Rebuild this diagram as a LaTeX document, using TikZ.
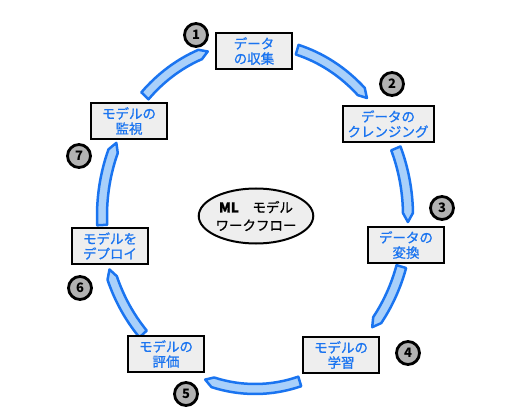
\documentclass[tikz,border=0pt]{standalone}
\usepackage{fontspec}
\setmainfont{Noto Sans CJK JP}
\newfontfamily\stepfont{Noto Sans CJK JP}[FakeBold=0.8]
\usetikzlibrary{positioning, shapes.geometric}
\definecolor{flowblue}{HTML}{1A74F0}
\definecolor{flowfill}{HTML}{A9D0FA}
\definecolor{boxgray}{HTML}{EEEEEE}
\definecolor{stepgray}{HTML}{B2B2B2}
\tikzset{
  stepbox/.style={draw=black, line width=2pt, fill=boxgray, minimum width=76pt, minimum height=36pt,
    inner sep=2pt, align=center, text=flowblue, font=\stepfont\fontsize{13.5}{15}\selectfont},
  stepnum/.style={circle, draw=black, line width=2.8pt, fill=stepgray, minimum size=23pt,
    inner sep=0pt, font=\bfseries\fontsize{13}{13}\selectfont},
  flowband/.style={draw=flowblue, fill=flowfill, line width=2.5pt, line join=round},
}

\begin{document}
\begin{tikzpicture}[x=1pt, y=1pt]
    \useasboundingbox (0,0) rectangle (518,415);

    % ring of arrows
    \begin{scope}[shift={(255,199)}]
    \foreach \s/\e in {74/43, 23/-2, -17/-40, -73/-109, -137/-162, 183/155, 136/108}
    {
        \pgfmathsetmacro\m{\e+3}
        \filldraw[flowband] (\s:158 and 178) arc[start angle=\s, end angle=\m, x radius=158, y radius=178]
            -- (\e:153 and 173) -- (\m:148 and 168)
            arc[start angle=\m, end angle=\s, x radius=148, y radius=168] -- cycle;
    }
    \end{scope}

    % steps
    \node[stepbox] (collect) at (254,364) {データ\\の収集};
    \node[stepbox, minimum width=91pt] (clean) at (388,291) {データの\\クレンジング};
    \node[stepbox] (transform) at (406,170) {データの\\変換};
    \node[stepbox] (train) at (341,60) {モデルの\\学習};
    \node[stepbox] (evaluate) at (166,61) {モデルの\\評価};
    \node[stepbox] (deploy) at (110,169) {モデルを\\デプロイ};
    \node[stepbox] (monitor) at (129,294) {モデルの\\監視};

    % numbers
    \foreach \x/\y/\n in {196/380/1, 392/331/2, 442/207/3, 408/62/4, 186/21/5, 80/127/6, 79/259/7}
        \node[stepnum] (num\n) at (\x,\y) {\n};

    % centre
    \node[ellipse, draw=black, line width=2pt, fill=boxgray, minimum width=113pt, minimum height=55pt,
        inner sep=0pt, align=center, font=\stepfont\fontsize{13.5}{18}\selectfont] (flow) at (256,199)
        {\textbf{ML}\quad モデル\\ワークフロー};
\end{tikzpicture}
\end{document}
